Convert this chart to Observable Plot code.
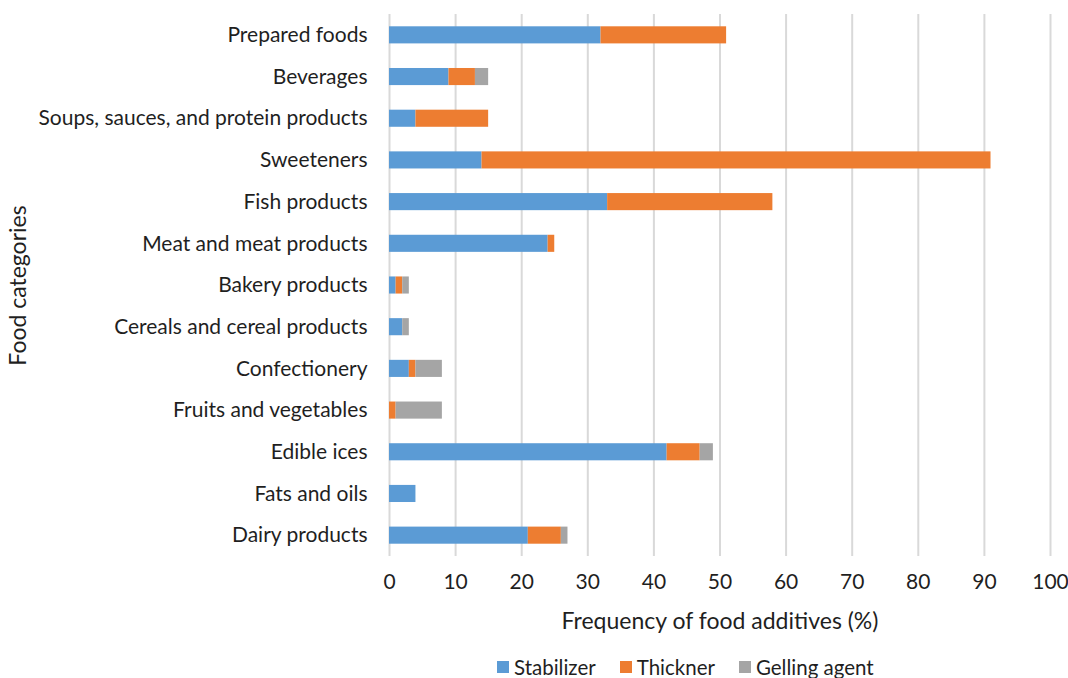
<!DOCTYPE html>
<html>
<head>
<meta charset="utf-8">
<script src="https://cdn.jsdelivr.net/npm/d3@7"></script>
<script src="https://cdn.jsdelivr.net/npm/@observablehq/plot@0.6"></script>
<style>
  body { margin: 0; background: #fff; font-family: Lato, "Open Sans", sans-serif; }
  #wrap { position: relative; width: 1068px; height: 678px; }
  #legend { position: absolute; top: 655px; left: 497px; display: flex; gap: 24px; font-size: 20.5px; color: #1f1f1f; align-items: center; }
  #legend span.item { display: flex; align-items: center; gap: 5px; }
  #legend span.sw { width: 12px; height: 12px; display: inline-block; }
</style>
</head>
<body>
<div id="wrap"><div id="chart"></div><div id="legend"></div></div>
<script>
const categories = [
  "Prepared foods", "Beverages", "Soups, sauces, and protein products", "Sweeteners",
  "Fish products", "Meat and meat products", "Bakery products", "Cereals and cereal products",
  "Confectionery", "Fruits and vegetables", "Edible ices", "Fats and oils", "Dairy products"
];
const seriesNames = ["Stabilizer", "Thickner", "Gelling agent"];
const stabilizer = [32, 9, 4, 14, 33, 24, 1, 2, 3, 0, 42, 4, 21];
const thickner   = [19, 4, 11, 77, 25, 1, 1, 0, 1, 1, 5, 0, 5];
const gelling    = [0, 2, 0, 0, 0, 0, 1, 1, 4, 7, 2, 0, 1];
const colors = ["#5b9bd5", "#ed7d31", "#a5a5a5"];
const xTicks = [0, 10, 20, 30, 40, 50, 60, 70, 80, 90, 100];

const seriesValues = [stabilizer, thickner, gelling];
const data = [];
categories.forEach((c, i) => {
  seriesNames.forEach((s, j) => data.push({category: c, series: s, value: seriesValues[j][i]}));
});

const textColor = "#1f1f1f";
const chart = Plot.plot({
  width: 1068,
  height: 640,
  marginTop: 14,
  marginBottom: 84,
  marginLeft: 389,
  marginRight: 18,
  style: {fontFamily: "Lato, 'Open Sans', sans-serif", fontSize: "21px", color: textColor, background: "#fff"},
  x: {domain: [0, 100], ticks: xTicks, tickSize: 0, tickPadding: 18, label: null, tickFormat: d => String(d)},
  y: {domain: categories, tickSize: 0, tickPadding: 22, label: null, paddingInner: 0.59, paddingOuter: 0.295, round: false},
  color: {domain: seriesNames, range: colors},
  marks: [
    Plot.gridX(xTicks, {stroke: "#d9d9d9", strokeWidth: 2, strokeOpacity: 1}),
    Plot.barX(data, Plot.stackX({y: "category", x: "value", fill: "series", order: seriesNames})),
    Plot.text(["Frequency of food additives (%)"], {frameAnchor: "bottom", dy: 72, text: d => d, fontSize: 23, fill: textColor}),
    Plot.text(["Food categories"], {frameAnchor: "left", dx: -371, rotate: -90, textAnchor: "middle", text: d => d, fontSize: 23, fill: textColor})
  ]
});
document.getElementById("chart").appendChild(chart);

const legend = document.getElementById("legend");
seriesNames.forEach((s, i) => {
  const item = document.createElement("span");
  item.className = "item";
  const sw = document.createElement("span");
  sw.className = "sw";
  sw.style.background = colors[i];
  item.appendChild(sw);
  item.appendChild(document.createTextNode(s));
  legend.appendChild(item);
});
</script>
</body>
</html>
